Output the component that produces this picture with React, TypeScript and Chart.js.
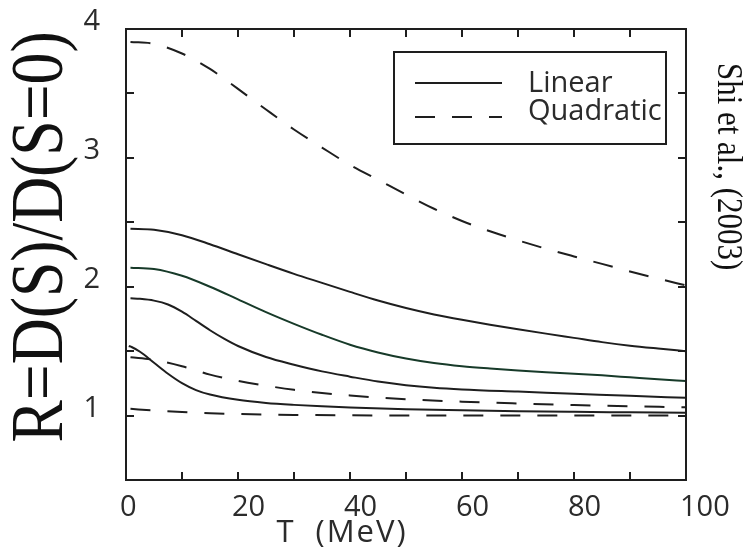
import React, { useEffect, useRef } from 'react';
import { Chart, registerables } from 'chart.js';

Chart.register(...registerables);

// Temperature samples (MeV) and ratio R = D(S)/D(S=0) for each curve
const linear1T = [0.8, 5, 10, 15, 20, 25, 30, 35, 40, 45, 50, 55, 60, 65, 70, 75, 80, 85, 90, 95, 100];
const linear1R = [2.45, 2.442, 2.4, 2.33, 2.252, 2.175, 2.1, 2.03, 1.96, 1.893, 1.835, 1.785, 1.743, 1.705, 1.67, 1.636, 1.603, 1.57, 1.542, 1.52, 1.5];

const linear2T = [0.8, 5, 10, 15, 20, 25, 30, 35, 40, 45, 50, 55, 60, 65, 70, 75, 80, 85, 90, 95, 100];
const linear2R = [2.148, 2.138, 2.085, 2.0, 1.902, 1.803, 1.712, 1.627, 1.55, 1.49, 1.443, 1.408, 1.383, 1.365, 1.35, 1.337, 1.325, 1.312, 1.297, 1.282, 1.268];

const linear3T = [0.8, 2.5, 5, 7.5, 10, 12.5, 15, 17.5, 20, 25, 30, 35, 40, 45, 50, 55, 60, 70, 80, 90, 100];
const linear3R = [1.91, 1.906, 1.892, 1.862, 1.806, 1.735, 1.662, 1.597, 1.54, 1.455, 1.395, 1.343, 1.302, 1.264, 1.236, 1.216, 1.203, 1.186, 1.17, 1.153, 1.138];

const linear4T = [0.5, 1, 2.5, 5, 7.5, 10, 12.5, 15, 20, 25, 30, 35, 40, 50, 60, 70, 80, 90, 100];
const linear4R = [1.54, 1.532, 1.495, 1.41, 1.325, 1.252, 1.198, 1.163, 1.122, 1.098, 1.083, 1.072, 1.063, 1.05, 1.041, 1.034, 1.029, 1.025, 1.021];

const quad1T = [0.8, 5, 10, 15, 20, 25, 30, 35, 40, 45, 50, 55, 60, 65, 70, 75, 80, 85, 90, 95, 100];
const quad1R = [3.9, 3.885, 3.81, 3.69, 3.535, 3.375, 3.22, 3.08, 2.945, 2.83, 2.715, 2.605, 2.51, 2.43, 2.36, 2.295, 2.235, 2.177, 2.118, 2.063, 2.01];

const quad2T = [0.8, 5, 10, 15, 20, 25, 30, 35, 40, 45, 50, 60, 70, 80, 90, 100];
const quad2R = [1.452, 1.432, 1.383, 1.318, 1.27, 1.232, 1.2, 1.175, 1.156, 1.14, 1.127, 1.108, 1.094, 1.082, 1.072, 1.064];

const quad3T = [0.8, 5, 10, 15, 20, 25, 30, 40, 60, 80, 100];
const quad3R = [1.052, 1.04, 1.028, 1.018, 1.012, 1.008, 1.005, 1.002, 1.0, 1.0, 1.0];

const legendLabels = ['Linear', 'Quadratic'];
const xTitle = 'T  (MeV)';
const yTitle = 'R=D(S)/D(S=0)';
const sideNote = 'Shi et al., (2003)';

const INK = '#1e1e1e';
const TEXT = '#2b2b2b';
const GREEN_INK = '#173a29';
const DASH = [20, 17];
const SANS = '"Open Sans", "DejaVu Sans", sans-serif';
const SERIF = '"Liberation Serif", "DejaVu Serif", serif';

const toPoints = (ts: number[], rs: number[]) => ts.map((t, i) => ({ x: t, y: rs[i] }));

const line = (ts: number[], rs: number[], dashed: boolean, color = INK) => ({
  data: toPoints(ts, rs),
  borderColor: color,
  borderWidth: 2,
  borderDash: dashed ? DASH : [],
  pointRadius: 0,
  fill: false,
  cubicInterpolationMode: 'monotone' as const,
});

// Fixed axis boxes so the plot frame lands at the same place every time
const fixBox = (size: { width?: number; height?: number }) => (s: any) => {
  if (size.width !== undefined) s.width = size.width;
  if (size.height !== undefined) s.height = size.height;
  s.paddingTop = 0;
  s.paddingBottom = 0;
  s.paddingLeft = 0;
  s.paddingRight = 0;
};

// Frame, inward tick marks, boxed legend and the free-standing texts
const decorations = {
  id: 'decorations',
  afterDraw(chart: any) {
    const { ctx, chartArea: a, scales } = chart;
    const xs = scales.x;
    const ys = scales.y;
    ctx.save();
    ctx.strokeStyle = INK;
    ctx.lineWidth = 2;
    ctx.setLineDash([]);

    // top and right edges of the frame
    ctx.beginPath();
    ctx.moveTo(a.left, a.top);
    ctx.lineTo(a.right, a.top);
    ctx.lineTo(a.right, a.bottom);
    ctx.stroke();

    // inward ticks on all four sides
    const tl = 8;
    ctx.beginPath();
    for (const t of xs.ticks) {
      const px = Math.round(xs.getPixelForValue(t.value));
      ctx.moveTo(px, a.bottom);
      ctx.lineTo(px, a.bottom - tl);
      ctx.moveTo(px, a.top);
      ctx.lineTo(px, a.top + tl);
    }
    for (const t of ys.ticks) {
      const py = Math.round(ys.getPixelForValue(t.value));
      ctx.moveTo(a.left, py);
      ctx.lineTo(a.left + tl, py);
      ctx.moveTo(a.right, py);
      ctx.lineTo(a.right - tl, py);
    }
    ctx.stroke();

    // legend box
    const bx = a.left + 268;
    const by = a.top + 23;
    ctx.strokeRect(bx, by, 272, 92);
    const items = [
      { dash: [] as number[], label: legendLabels[0], ly: by + 31, ty: by + 40 },
      { dash: DASH, label: legendLabels[1], ly: by + 65, ty: by + 68 },
    ];
    ctx.fillStyle = TEXT;
    ctx.font = `29px ${SANS}`;
    ctx.textBaseline = 'alphabetic';
    ctx.textAlign = 'left';
    for (const it of items) {
      ctx.setLineDash(it.dash);
      ctx.beginPath();
      ctx.moveTo(bx + 21, it.ly);
      ctx.lineTo(bx + 108, it.ly);
      ctx.stroke();
      ctx.fillText(it.label, bx + 134, it.ty);
    }
    ctx.setLineDash([]);

    // x-axis title
    ctx.font = `31px ${SANS}`;
    (ctx as any).letterSpacing = '2px';
    ctx.textAlign = 'center';
    ctx.textBaseline = 'middle';
    ctx.fillText(xTitle, a.left + 216, a.bottom + 53);
    (ctx as any).letterSpacing = '0px';

    // y-axis title, rotated and slightly condensed
    ctx.fillStyle = '#111';
    ctx.save();
    ctx.translate(43, a.top + 208);
    ctx.rotate(-Math.PI / 2);
    ctx.scale(0.86, 1);
    ctx.font = `74px ${SERIF}`;
    ctx.fillText(yTitle, 0, 0);
    ctx.restore();

    // citation on the right, reading downward
    ctx.save();
    ctx.translate(a.right + 41, a.top + 34);
    ctx.rotate(Math.PI / 2);
    ctx.scale(0.86, 1);
    ctx.font = `36px ${SERIF}`;
    ctx.textAlign = 'left';
    ctx.fillText(sideNote, 0, 0);
    ctx.restore();

    ctx.restore();
  },
};

export default function App() {
  const canvasRef = useRef<HTMLCanvasElement | null>(null);

  useEffect(() => {
    const canvas = canvasRef.current;
    if (!canvas) return;
    const chart = new Chart(canvas, {
      type: 'line',
      data: {
        datasets: [
          line(quad1T, quad1R, true),
          line(linear1T, linear1R, false),
          line(linear2T, linear2R, false, GREEN_INK),
          line(linear3T, linear3R, false),
          line(quad2T, quad2R, true),
          line(linear4T, linear4R, false),
          line(quad3T, quad3R, true),
        ],
      },
      options: {
        responsive: false,
        animation: false,
        devicePixelRatio: 1,
        layout: { padding: { top: 29, right: 60, left: 0, bottom: 0 } },
        plugins: { legend: { display: false }, tooltip: { enabled: false } },
        scales: {
          x: {
            type: 'linear',
            min: 0,
            max: 100,
            afterFit: fixBox({ height: 70 }),
            grid: { display: false },
            border: { display: true, color: INK, width: 2 },
            ticks: {
              stepSize: 10,
              autoSkip: false,
              maxRotation: 0,
              align: 'start',
              labelOffset: -6,
              padding: 2,
              color: TEXT,
              font: { family: SANS, size: 29 },
              callback: (v: any) => (Number(v) % 20 === 0 ? String(v) : ''),
            },
          },
          y: {
            type: 'linear',
            min: 0.5,
            max: 4,
            afterFit: fixBox({ width: 126 }),
            grid: { display: false },
            border: { display: true, color: INK, width: 2 },
            ticks: {
              stepSize: 0.5,
              autoSkip: false,
              padding: 18,
              labelOffset: -7,
              color: TEXT,
              font: { family: SANS, size: 29 },
              callback: (v: any) => (Number.isInteger(Number(v)) ? String(v) : ''),
            },
          },
        },
      },
      plugins: [decorations],
    });
    return () => chart.destroy();
  }, []);

  return (
    <div style={{ position: 'fixed', left: 0, top: 0, width: 746, height: 550, background: '#fff' }}>
      <canvas ref={canvasRef} width={746} height={550} style={{ display: 'block' }} />
    </div>
  );
}
